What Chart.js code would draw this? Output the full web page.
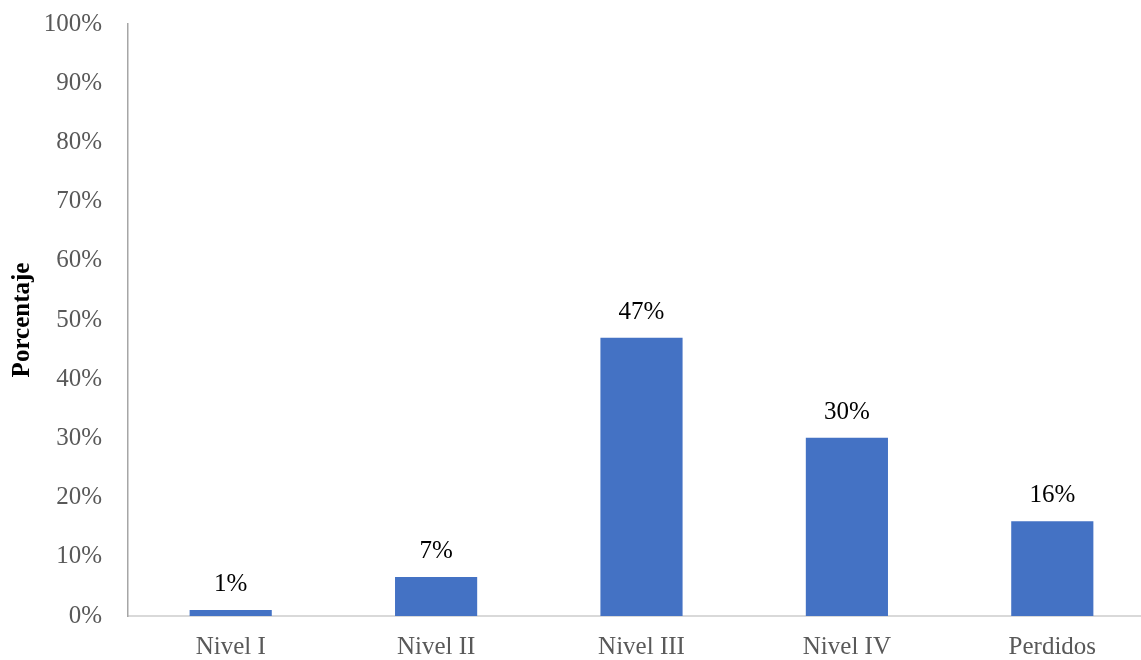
<!DOCTYPE html>
<html>
<head>
<meta charset="utf-8">
<script src="https://cdn.jsdelivr.net/npm/chart.js@4/dist/chart.umd.min.js"></script>
<style>
html,body{margin:0;padding:0;background:#fff;overflow:hidden;}
#wrap{width:1155px;height:660px;}
</style>
</head>
<body>
<div id="wrap"><canvas id="c" width="1155" height="660"></canvas></div>
<script>
const categories = ["Nivel I", "Nivel II", "Nivel III", "Nivel IV", "Perdidos"];
const values = [1.0, 6.6, 47.0, 30.1, 16.0];
const valueLabels = ["1%", "7%", "47%", "30%", "16%"];
const yTicks = [0, 10, 20, 30, 40, 50, 60, 70, 80, 90, 100];

const FONT = '"Liberation Serif", "Times New Roman", serif';

const labelPlugin = {
  id: 'barLabels',
  afterDatasetsDraw(chart) {
    const ctx = chart.ctx;
    const meta = chart.getDatasetMeta(0);
    ctx.save();
    ctx.font = '25px ' + FONT;
    ctx.fillStyle = '#000000';
    ctx.textAlign = 'center';
    ctx.textBaseline = 'alphabetic';
    meta.data.forEach((bar, i) => {
      ctx.fillText(valueLabels[i], bar.x, bar.y - 19);
    });
    ctx.restore();
  }
};

new Chart(document.getElementById('c'), {
  type: 'bar',
  data: {
    labels: categories,
    datasets: [{
      data: values,
      backgroundColor: '#4472c4',
      borderWidth: 0,
      categoryPercentage: 1.0,
      barPercentage: 0.4
    }]
  },
  options: {
    responsive: false,
    animation: false,
    devicePixelRatio: 1,
    layout: { padding: { top: 24, right: 0, left: 0, bottom: 0 } },
    plugins: { legend: { display: false }, tooltip: { enabled: false } },
    scales: {
      x: {
        grid: { display: false, drawTicks: false },
        border: { color: '#d9d9d9', width: 2 },
        ticks: {
          color: '#595959',
          font: { family: FONT, size: 25 },
          padding: 16
        },
        afterFit(scale) { scale.height = 44; scale.paddingLeft = 0; scale.paddingRight = 0; }
      },
      y: {
        min: 0,
        max: 100,
        afterBuildTicks(scale) { scale.ticks = yTicks.map(v => ({ value: v })); },
        grid: { display: false, drawTicks: false },
        border: { color: '#a6a6a6', width: 1.5 },
        ticks: {
          color: '#595959',
          font: { family: FONT, size: 25 },
          padding: 26,
          callback: v => v + '%'
        },
        title: {
          display: true,
          text: 'Porcentaje',
          color: '#000000',
          font: { family: FONT, size: 25, weight: 'bold' },
          padding: { top: 8, bottom: 0 }
        },
        afterFit(scale) { scale.width = 128; scale.paddingTop = 0; scale.paddingBottom = 0; }
      }
    }
  },
  plugins: [labelPlugin]
});
</script>
</body>
</html>
